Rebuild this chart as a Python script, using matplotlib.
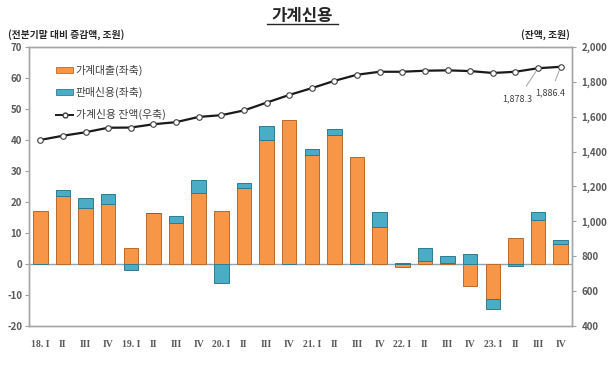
import numpy as np
import matplotlib
matplotlib.use('Agg')
from matplotlib import pyplot as plt
from matplotlib.patches import Patch
from matplotlib.lines import Line2D

plt.rcParams['font.family'] = ['Noto Sans CJK KR', 'DejaVu Sans']
plt.rcParams['axes.unicode_minus'] = False

# quarters 2018 Q1 .. 2023 Q4
quarters = ['18. I', 'II', 'III', 'IV', '19. I', 'II', 'III', 'IV',
            '20. I', 'II', 'III', 'IV', '21. I', 'II', 'III', 'IV',
            '22. I', 'II', 'III', 'IV', '23. I', 'II', 'III', 'IV']
# 가계대출 증감 (조원)
loans = [17.2, 22.0, 18.0, 19.2, 5.1, 16.5, 13.3, 22.8,
         17.2, 24.4, 40.0, 46.5, 35.2, 41.6, 34.6, 11.8,
         -0.9, 1.0, 0.3, -7.1, -11.2, 8.5, 14.2, 6.4]
# 판매신용 증감 (조원)
sales = [0.0, 1.9, 3.4, 3.4, -1.9, 0.1, 2.3, 4.3,
         -6.2, 1.6, 4.6, 0.0, 2.0, 1.8, 0.0, 5.1,
         0.2, 4.3, 2.3, 3.1, -3.4, -0.7, 2.7, 1.3]
# 가계신용 잔액 (조원)
balance = [1467, 1491, 1511, 1537, 1538, 1557, 1569, 1599,
           1609, 1636, 1681, 1725, 1764, 1806, 1841, 1858,
           1858, 1864, 1866, 1862, 1851, 1858, 1878.3, 1886.4]

orange = '#F79646'
blue = '#4BACC6'
tick_col = '#595959'

x = np.arange(len(quarters))
loans = np.array(loans)
sales = np.array(sales)
# blue sits on the orange when same sign, else starts from zero
sales_bottom = np.where(np.sign(sales) == np.sign(loans), loans, 0)

fig = plt.figure(figsize=(6.1, 3.66), dpi=100)
ax = fig.add_axes([0.0475, 0.1093, 0.8902, 0.7623])

ax.bar(x, loans, width=0.64, color=orange, edgecolor='#B86A2C', linewidth=0.7, zorder=2)
ax.bar(x, sales, width=0.64, bottom=sales_bottom, color=blue, edgecolor='#2C7C93',
       linewidth=0.7, zorder=2)
ax.axhline(0, color='#8EA5B8', linewidth=1.0, zorder=1)

ax.set_xlim(-0.5, len(quarters) - 0.5)
ax.set_ylim(-20, 70)
ax.set_yticks(np.arange(-20, 71, 10))
ax.set_xticks(x)
ax.set_xticklabels(quarters, fontsize=7, color=tick_col, fontweight='bold',
                   family='Liberation Serif')
ax.tick_params(axis='x', length=0, pad=10)
ax.tick_params(axis='y', labelsize=7, labelcolor=tick_col, length=3, color='#a0a0a0', pad=2)
for lab in ax.get_yticklabels():
    lab.set_fontweight('bold')
for s in ax.spines.values():
    s.set_color('#a6a6a6')
    s.set_linewidth(1.0)

ax2 = ax.twinx()
ax2.plot(x, balance, color='#1a1a1a', linewidth=1.6, marker='o', markersize=4,
         markerfacecolor='white', markeredgecolor='#404040', markeredgewidth=0.8, zorder=3)
ax2.set_ylim(400, 2000)
ax2.set_yticks(np.arange(400, 2001, 200))
ax2.set_yticklabels([f'{v:,}' for v in range(400, 2001, 200)])
ax2.tick_params(axis='y', labelsize=7, labelcolor=tick_col, length=3, color='#a0a0a0', pad=4)
for lab in ax2.get_yticklabels():
    lab.set_fontweight('bold')
for s in ax2.spines.values():
    s.set_color('#a6a6a6')
    s.set_linewidth(1.0)

# value labels for last two quarters
ax2.annotate('1,878.3', xy=(x[-2], balance[-2]), xytext=(x[-2] - 0.9, 1700),
             fontsize=6.5, color='#404040', ha='center', va='center',
             arrowprops=dict(arrowstyle='-', color='#a0a0a0', lw=0.7, shrinkA=5, shrinkB=3))
ax2.annotate('1,886.4', xy=(x[-1], balance[-1]), xytext=(x[-1] - 0.45, 1735),
             fontsize=6.5, color='#404040', ha='center', va='center',
             arrowprops=dict(arrowstyle='-', color='#a0a0a0', lw=0.7, shrinkA=4, shrinkB=3))

handles = [Patch(facecolor=orange, edgecolor='#B86A2C', linewidth=0.6),
           Patch(facecolor=blue, edgecolor='#2C7C93', linewidth=0.6),
           Line2D([0], [0], color='#1a1a1a', linewidth=1.4, marker='o', markersize=3.5,
                  markerfacecolor='white', markeredgecolor='#404040')]
labels = ['가계대출(좌축)', '판매신용(좌축)', '가계신용 잔액(우축)']
leg = ax2.legend(handles, labels, loc='upper left', bbox_to_anchor=(0.032, 0.97),
                 frameon=False, fontsize=7.8, handlelength=1.6, handleheight=0.45,
                 handletextpad=0.2, labelspacing=1.0)
for t in leg.get_texts():
    t.set_color('#404040')

fig.text(0.495, 0.955, '가계신용', fontsize=12, fontweight='bold', color='#262626',
         ha='center', va='center')
fig.add_artist(Line2D([0.438, 0.554], [0.935, 0.935], color='#262626', linewidth=1.0))
fig.text(0.013, 0.905, '(전분기말 대비 증감액, 조원)', fontsize=7, fontweight='bold',
         color='#262626', ha='left', va='center')
fig.text(0.935, 0.905, '(잔액, 조원)', fontsize=7, fontweight='bold',
         color='#262626', ha='right', va='center')

fig.savefig('out.png', dpi=100)
